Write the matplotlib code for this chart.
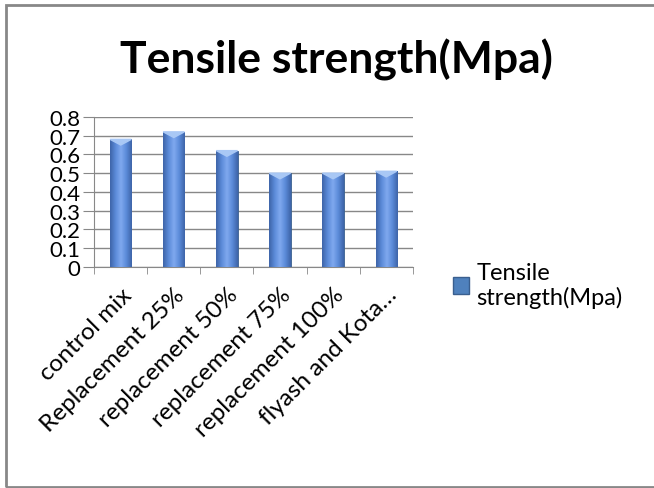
import matplotlib.pyplot as plt
import matplotlib.patches as mpatches
from matplotlib.colors import LinearSegmentedColormap
import numpy as np

# Data
categories = ['control mix', 'Replacement 25%', 'replacement 50%',
              'replacement 75%', 'replacement 100%', 'flyash and Kota…']
strength = [0.68, 0.72, 0.62, 0.50, 0.50, 0.51]
series_name = 'Tensile strength(Mpa)'
yticks = [0, 0.1, 0.2, 0.3, 0.4, 0.5, 0.6, 0.7, 0.8]

plt.rcParams['font.family'] = ['Lato', 'DejaVu Sans']

fig = plt.figure(figsize=(6.54, 4.89), dpi=100)
ax = fig.add_axes([0.144, 0.452, 0.487, 0.307])

x = np.arange(len(categories))
bars = ax.bar(x, strength, width=0.4, color='#4F81BD', edgecolor='#3A5F8F',
              linewidth=0.6, zorder=3)

# gradient fill on each bar (dark edges, light centre)
grad = np.abs(np.linspace(-1, 1, 64))[None, :]
cmap = LinearSegmentedColormap.from_list('bar', ['#7FA8EE', '#5A8AD8', '#3E64A8'])
for b in bars:
    x0, w, h = b.get_x(), b.get_width(), b.get_height()
    im = ax.imshow(grad, extent=[x0, x0 + w, 0, h], aspect='auto', cmap=cmap,
                   zorder=3.5, interpolation='bicubic')
    im.set_clip_path(b)
    # lighter cap triangle at the top
    ax.fill([x0, x0 + w, x0 + w / 2], [h, h, h - 0.03], color='#A9C8F5', zorder=4)

ax.set_xlim(-0.5, len(categories) - 0.5)
ax.set_ylim(0, 0.8)
ax.set_yticks(yticks)
ax.set_yticklabels(['0' if v == 0 else f'{v:.1f}' for v in yticks], fontsize=16)
ax.set_xticks(x)
ax.set_xticklabels(categories, rotation=45, ha='right', rotation_mode='anchor', fontsize=17.5)
ax.set_xticks(np.arange(-0.5, len(categories), 1), minor=True)
ax.tick_params(axis='x', which='major', length=0, pad=12)
ax.tick_params(axis='x', which='minor', length=5, color='#888888')
ax.tick_params(axis='y', length=8, color='#888888', pad=2)

ax.grid(axis='y', color='#888888', linewidth=1, zorder=0)
for s in ['top', 'right']:
    ax.spines[s].set_visible(False)
ax.spines['left'].set_color('#888888')
ax.spines['bottom'].set_color('#888888')

fig.text(0.514, 0.878, series_name, ha='center', va='center',
         fontsize=32, fontweight='bold')

# legend
handle = mpatches.Patch(facecolor='#4F81BD', edgecolor='#3A5F8F')
fig.legend([handle], ['Tensile\nstrength(Mpa)'], loc='center left',
           bbox_to_anchor=(0.66, 0.415), frameon=False, fontsize=17,
           handlelength=0.7, handleheight=0.7, handletextpad=0.3)

# outer chart border
fig.patches.append(mpatches.Rectangle((0.009, 0.002), 1.1, 0.986, transform=fig.transFigure,
                                      fill=False, edgecolor='#888888', linewidth=2))

plt.savefig('out.png', dpi=100)
